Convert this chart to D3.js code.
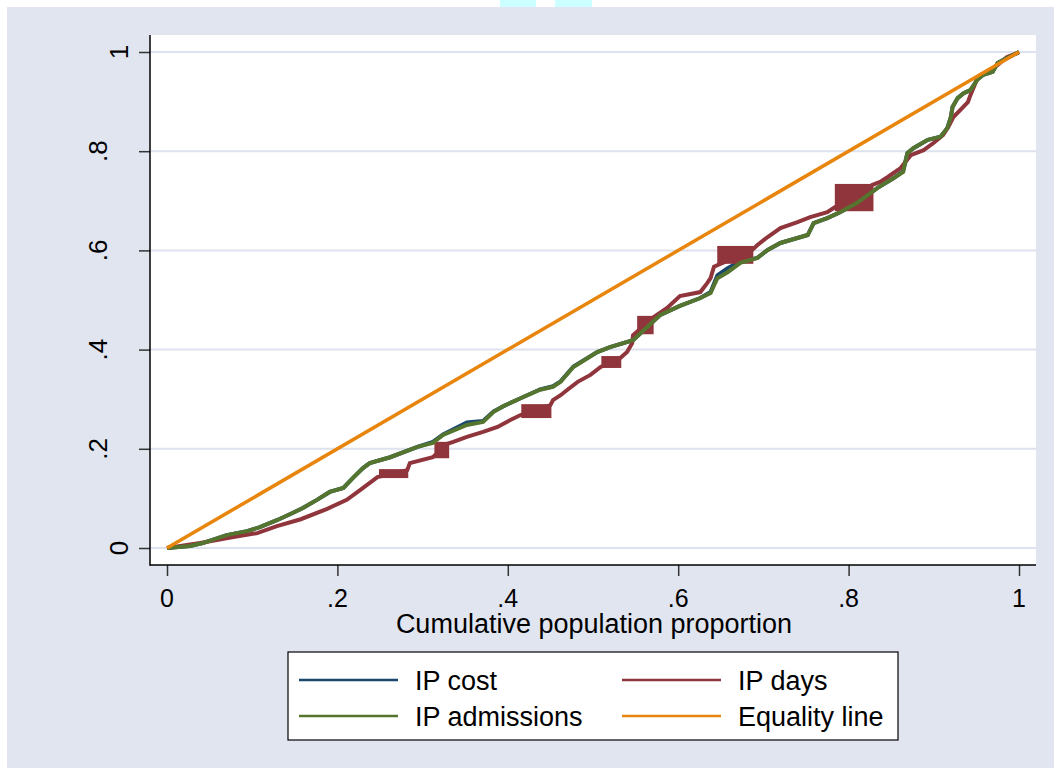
<!DOCTYPE html>
<html>
<head>
<meta charset="utf-8">
<script src="https://cdn.jsdelivr.net/npm/d3@7"></script>
<style>
  body { margin: 0; background: #fff; }
  svg { display: block; font-family: "Liberation Sans", Arial, sans-serif; }
</style>
</head>
<body>
<svg id="chart" width="1054" height="770"></svg>
<script>
// axis ticks
const xTicks = [0, 0.2, 0.4, 0.6, 0.8, 1];
const yTicks = [0, 0.2, 0.4, 0.6, 0.8, 1];
const tickLabels = ['0', '.2', '.4', '.6', '.8', '1'];

// Lorenz curves: [cumulative population share, cumulative share]
const admissions = [
  [0,0],[0.027,0.004],[0.042,0.010],[0.070,0.026],[0.094,0.034],[0.109,0.042],[0.129,0.056],
  [0.148,0.071],[0.160,0.081],[0.176,0.097],[0.191,0.113],[0.207,0.121],[0.218,0.141],
  [0.230,0.161],[0.238,0.171],[0.262,0.183],[0.294,0.204],[0.312,0.212],[0.324,0.228],
  [0.352,0.248],[0.371,0.254],[0.383,0.274],[0.395,0.286],[0.415,0.302],[0.438,0.319],
  [0.453,0.325],[0.462,0.335],[0.477,0.365],[0.505,0.395],[0.520,0.405],[0.547,0.419],
  [0.564,0.446],[0.579,0.470],[0.602,0.488],[0.626,0.504],[0.638,0.514],[0.646,0.544],
  [0.658,0.556],[0.673,0.575],[0.693,0.585],[0.705,0.601],[0.720,0.615],[0.740,0.625],
  [0.752,0.631],[0.759,0.655],[0.775,0.665],[0.790,0.677],[0.810,0.696],[0.834,0.726],
  [0.853,0.746],[0.864,0.758],[0.869,0.796],[0.876,0.806],[0.893,0.823],[0.908,0.829],
  [0.916,0.847],[0.920,0.869],[0.922,0.889],[0.928,0.907],[0.935,0.917],[0.943,0.923],
  [0.951,0.944],[0.958,0.954],[0.969,0.960],[0.975,0.978],[0.986,0.988],[0.998,0.998],[1,1]
];

const cost = [
  [0,0],[0.027,0.004],[0.042,0.010],[0.070,0.026],[0.094,0.034],[0.109,0.042],[0.129,0.056],
  [0.148,0.071],[0.160,0.081],[0.176,0.097],[0.191,0.113],[0.207,0.121],[0.218,0.141],
  [0.230,0.161],[0.238,0.171],[0.262,0.183],[0.294,0.204],[0.312,0.214],[0.324,0.229],
  [0.352,0.253],[0.371,0.256],[0.383,0.275],[0.395,0.286],[0.415,0.302],[0.438,0.320],
  [0.453,0.326],[0.462,0.336],[0.477,0.366],[0.505,0.395],[0.520,0.405],[0.547,0.419],
  [0.564,0.446],[0.579,0.470],[0.602,0.488],[0.626,0.504],[0.638,0.516],[0.646,0.550],
  [0.658,0.564],[0.673,0.578],[0.693,0.585],[0.705,0.601],[0.720,0.615],[0.740,0.625],
  [0.752,0.631],[0.759,0.655],[0.775,0.665],[0.790,0.677],[0.810,0.696],[0.834,0.726],
  [0.853,0.746],[0.864,0.760],[0.869,0.796],[0.876,0.806],[0.893,0.823],[0.908,0.829],
  [0.916,0.847],[0.920,0.869],[0.922,0.889],[0.928,0.907],[0.935,0.917],[0.943,0.923],
  [0.951,0.944],[0.958,0.954],[0.969,0.960],[0.975,0.978],[0.986,0.988],[0.998,0.998],[1,1]
];

const days = [
  [0,0],[0.039,0.010],[0.078,0.022],[0.106,0.030],[0.129,0.044],[0.157,0.058],[0.188,0.079],
  [0.211,0.097],[0.227,0.117],[0.247,0.143],[0.282,0.157],[0.285,0.171],[0.312,0.183],
  [0.329,0.210],[0.336,0.214],[0.352,0.224],[0.371,0.234],[0.388,0.244],[0.403,0.258],
  [0.415,0.268],[0.450,0.288],[0.453,0.298],[0.462,0.308],[0.470,0.319],[0.482,0.335],
  [0.497,0.349],[0.509,0.365],[0.532,0.383],[0.540,0.395],[0.546,0.413],[0.547,0.429],
  [0.570,0.464],[0.575,0.470],[0.587,0.484],[0.602,0.508],[0.626,0.516],[0.634,0.534],
  [0.638,0.544],[0.642,0.567],[0.687,0.601],[0.693,0.611],[0.705,0.627],[0.720,0.645],
  [0.740,0.657],[0.755,0.667],[0.775,0.677],[0.782,0.685],[0.828,0.732],[0.837,0.738],
  [0.846,0.748],[0.861,0.766],[0.873,0.792],[0.888,0.802],[0.900,0.817],[0.911,0.833],
  [0.917,0.849],[0.923,0.869],[0.931,0.883],[0.940,0.899],[0.943,0.913],[0.952,0.950],
  [0.963,0.960],[0.975,0.974],[0.986,0.990],[0.998,0.998],[1,1]
];

// dense tie blocks on the IP days curve: [x0, x1, y0, y1]
const daysBlocks = [
  [0.250, 0.282, 0.143, 0.157],
  [0.315, 0.330, 0.183, 0.212],
  [0.417, 0.450, 0.264, 0.288],
  [0.511, 0.532, 0.365, 0.385],
  [0.553, 0.570, 0.433, 0.466],
  [0.647, 0.687, 0.575, 0.607],
  [0.785, 0.828, 0.681, 0.732]
];

const equality = [[0, 0], [1, 1]];

const seriesNames = ['IP cost', 'IP days', 'IP admissions', 'Equality line'];
const seriesColors = ['#1a476f', '#90353b', '#55752f', '#e8850c'];

const svg = d3.select('#chart');
const W = 1054, H = 770;
const plot = { left: 150, right: 1036, top: 35, bottom: 565 };

const x = d3.scaleLinear().domain([0, 1]).range([167, 1019]);
const y = d3.scaleLinear().domain([0, 1]).range([548, 52]);

// background
svg.append('rect').attr('width', W).attr('height', H).attr('fill', '#fff');
svg.append('rect').attr('x', 7).attr('y', 7).attr('width', W - 7).attr('height', H - 9)
  .attr('fill', '#e0e5f0');
svg.append('rect').attr('x', 500).attr('y', 0).attr('width', 36).attr('height', 7).attr('fill', '#ccffff');
svg.append('rect').attr('x', 555).attr('y', 0).attr('width', 37).attr('height', 7).attr('fill', '#ccffff');

svg.append('rect')
  .attr('x', plot.left).attr('y', plot.top)
  .attr('width', plot.right - plot.left).attr('height', plot.bottom - plot.top)
  .attr('fill', '#fff');

// grid lines
svg.append('g').selectAll('line')
  .data(yTicks)
  .join('line')
  .attr('x1', plot.left).attr('x2', plot.right)
  .attr('y1', d => y(d)).attr('y2', d => y(d))
  .attr('stroke', '#dde2ee').attr('stroke-width', 2);

// axes
const yAxis = d3.axisLeft(y).tickValues(yTicks).tickSize(11).tickFormat('');
const xAxis = d3.axisBottom(x).tickValues(xTicks).tickSize(11).tickFormat('');

const gy = svg.append('g').attr('transform', `translate(${plot.left},0)`).call(yAxis);
gy.select('.domain').remove();
gy.selectAll('.tick line').attr('stroke', '#333').attr('stroke-width', 1.5);

const gx = svg.append('g').attr('transform', `translate(0,${plot.bottom})`).call(xAxis);
gx.select('.domain').remove();
gx.selectAll('.tick line').attr('stroke', '#333').attr('stroke-width', 1.5);

svg.append('line')
  .attr('x1', plot.left).attr('x2', plot.left)
  .attr('y1', plot.top).attr('y2', plot.bottom + 0.75)
  .attr('stroke', '#000').attr('stroke-width', 1.5);
svg.append('line')
  .attr('x1', plot.left).attr('x2', plot.right)
  .attr('y1', plot.bottom).attr('y2', plot.bottom)
  .attr('stroke', '#000').attr('stroke-width', 1.5);

// tick labels
svg.append('g').selectAll('text')
  .data(yTicks)
  .join('text')
  .attr('transform', (d, i) => `translate(${tickLabels[i].startsWith('.') ? 107 : 128},${y(d)}) rotate(-90)`)
  .attr('text-anchor', 'middle')
  .attr('font-size', 26)
  .attr('fill', '#000')
  .text((d, i) => tickLabels[i]);

svg.append('g').selectAll('text')
  .data(xTicks)
  .join('text')
  .attr('x', d => x(d)).attr('y', 607)
  .attr('text-anchor', 'middle')
  .attr('font-size', 25)
  .attr('fill', '#000')
  .text((d, i) => tickLabels[i]);

svg.append('text')
  .attr('x', 594).attr('y', 633)
  .attr('text-anchor', 'middle')
  .attr('font-size', 27)
  .attr('fill', '#000')
  .text('Cumulative population proportion');

// curves
const line = d3.line().x(d => x(d[0])).y(d => y(d[1]));

svg.append('path').datum(cost).attr('d', line)
  .attr('fill', 'none').attr('stroke-linejoin', 'miter')
  .attr('stroke', seriesColors[0]).attr('stroke-width', 4);

svg.append('path').datum(days).attr('d', line)
  .attr('fill', 'none').attr('stroke-linejoin', 'miter')
  .attr('stroke', seriesColors[1]).attr('stroke-width', 4);
svg.append('g').selectAll('rect')
  .data(daysBlocks)
  .join('rect')
  .attr('x', d => x(d[0]) - 1).attr('width', d => x(d[1]) - x(d[0]) + 2)
  .attr('y', d => y(d[3]) - 1).attr('height', d => y(d[2]) - y(d[3]) + 2)
  .attr('fill', seriesColors[1]);

svg.append('path').datum(admissions).attr('d', line)
  .attr('fill', 'none').attr('stroke-linejoin', 'miter')
  .attr('stroke', seriesColors[2]).attr('stroke-width', 4);

svg.append('path').datum(equality).attr('d', line)
  .attr('fill', 'none')
  .attr('stroke', seriesColors[3]).attr('stroke-width', 3.5);

// legend
const legend = svg.append('g');
legend.append('rect')
  .attr('x', 288).attr('y', 652).attr('width', 610).attr('height', 88)
  .attr('fill', '#fff').attr('stroke', '#000').attr('stroke-width', 1.2);

const legendPos = [[299, 680], [622, 680], [299, 716], [622, 716]];
const items = legend.selectAll('g.item')
  .data(seriesNames)
  .join('g').attr('class', 'item')
  .attr('transform', (d, i) => `translate(${legendPos[i][0]},${legendPos[i][1]})`);
items.append('line')
  .attr('x1', 0).attr('x2', 99).attr('y1', 0).attr('y2', 0)
  .attr('stroke', (d, i) => seriesColors[i]).attr('stroke-width', 2.5);
items.append('text')
  .attr('x', 116).attr('y', 10)
  .attr('font-size', 27)
  .attr('fill', '#000')
  .text(d => d);
</script>
</body>
</html>
